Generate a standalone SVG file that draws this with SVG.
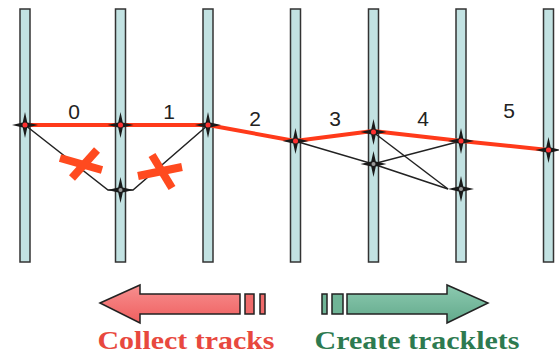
<svg xmlns="http://www.w3.org/2000/svg" width="559" height="354" viewBox="0 0 559 354">
<defs>
<style>
.plane{fill:#c2e2e2;stroke:#333;stroke-width:1.5}
.trk{fill:none;stroke:#222;stroke-width:1.5}
.red{fill:none;stroke:#ff3a1a;stroke-width:4;stroke-linejoin:round}
.x{stroke:#ff4a1f;stroke-width:8;stroke-linecap:butt}
.lbl{font-family:"Liberation Sans",Arial,sans-serif;font-size:21px;fill:#222;text-anchor:middle}
.cap{font-family:"Liberation Serif","Times New Roman",serif;font-weight:bold;font-size:25px;text-anchor:middle}
</style>
<path id="star" d="M0,-13 L2.3,-2.5 L13,0 L2.3,2.5 L0,13 L-2.3,2.5 L-13,0 L-2.3,-2.5 Z"/>
<linearGradient id="gr" x1="0" y1="0" x2="0" y2="1"><stop offset="0" stop-color="#f78f8f"/><stop offset="1" stop-color="#ef5f5f"/></linearGradient>
<linearGradient id="gg" x1="0" y1="0" x2="0" y2="1"><stop offset="0" stop-color="#8ccab0"/><stop offset="1" stop-color="#62a98b"/></linearGradient>
</defs>
<rect width="559" height="354" fill="#ffffff"/>
<g id="planes">
<rect class="plane" x="20" y="9" width="10" height="253"/>
<rect class="plane" x="115.5" y="9" width="10" height="253"/>
<rect class="plane" x="203" y="9" width="10" height="253"/>
<rect class="plane" x="290.5" y="9" width="10" height="253"/>
<rect class="plane" x="368.5" y="9" width="10" height="253"/>
<rect class="plane" x="456" y="9" width="10" height="253"/>
<rect class="plane" x="543.5" y="9" width="10" height="253"/>
</g>
<g id="connectors">
<polyline class="trk" points="25,125 108,190 133,190 208,125"/>
<polyline class="trk" points="295,141 373,164 461,141"/>
<polyline class="trk" points="373,132 448,189"/>
<polyline class="trk" points="373,164 448,189"/>
<polyline class="red" points="25,125 120,125 208,125 295,141 373,131 461,141 548,150"/>
</g>
<g id="rejected">
<line class="x" x1="97" y1="150" x2="72" y2="178"/>
<line class="x" x1="60" y1="158" x2="102" y2="170"/>
<line class="x" x1="152" y1="155" x2="172" y2="188"/>
<line class="x" x1="138" y1="176" x2="182" y2="167"/>
</g>
<g id="hits">
<g fill="#1a1a1a">
<use href="#star" x="25" y="125"/>
<use href="#star" x="120.5" y="125"/>
<use href="#star" x="208" y="125"/>
<use href="#star" x="295.5" y="141"/>
<use href="#star" x="373.5" y="132"/>
<use href="#star" x="461" y="141"/>
<use href="#star" x="548.5" y="150"/>
<use href="#star" x="120.5" y="190"/>
<use href="#star" x="373.5" y="164"/>
<use href="#star" x="461" y="189"/>
</g>
<g fill="#ff3030">
<circle cx="25" cy="125" r="2.5"/>
<circle cx="120.5" cy="125" r="2.5"/>
<circle cx="208" cy="125" r="2.5"/>
<circle cx="295.5" cy="141" r="2.5"/>
<circle cx="373.5" cy="132" r="2.5"/>
<circle cx="461" cy="141" r="2.5"/>
<circle cx="548.5" cy="150" r="2.5"/>
</g>
<g fill="#9a9a9a">
<circle cx="120.5" cy="190" r="2"/>
<circle cx="373.5" cy="164" r="2"/>
<circle cx="461" cy="189" r="2"/>
</g>
</g>
<g id="labels">
<text class="lbl" x="74" y="119">0</text>
<text class="lbl" x="169" y="119">1</text>
<text class="lbl" x="255" y="126">2</text>
<text class="lbl" x="335" y="126">3</text>
<text class="lbl" x="423" y="126">4</text>
<text class="lbl" x="509" y="118">5</text>
</g>
<g id="collect">
<path d="M100,303 L140,285 L140,294 L240,294 L240,314 L140,314 L140,323 Z" fill="url(#gr)" stroke="#222" stroke-width="1.5" stroke-linejoin="miter"/>
<rect x="245" y="294" width="9" height="20" fill="#ef6a6a" stroke="#222" stroke-width="1.5"/>
<rect x="260" y="294" width="5" height="20" fill="#ef6a6a" stroke="#222" stroke-width="1.5"/>
<text class="cap" x="186" y="349" fill="#e8483e" textLength="177" lengthAdjust="spacingAndGlyphs">Collect tracks</text>
</g>
<g id="create">
<rect x="322" y="294" width="5" height="20" fill="#6fb496" stroke="#222" stroke-width="1.5"/>
<rect x="332" y="294" width="11" height="20" fill="#6fb496" stroke="#222" stroke-width="1.5"/>
<path d="M347,294 L447,294 L447,285 L488,303 L447,323 L447,314 L347,314 Z" fill="url(#gg)" stroke="#222" stroke-width="1.5"/>
<text class="cap" x="417" y="349" fill="#2d7a50" textLength="205" lengthAdjust="spacingAndGlyphs">Create tracklets</text>
</g>
</svg>
